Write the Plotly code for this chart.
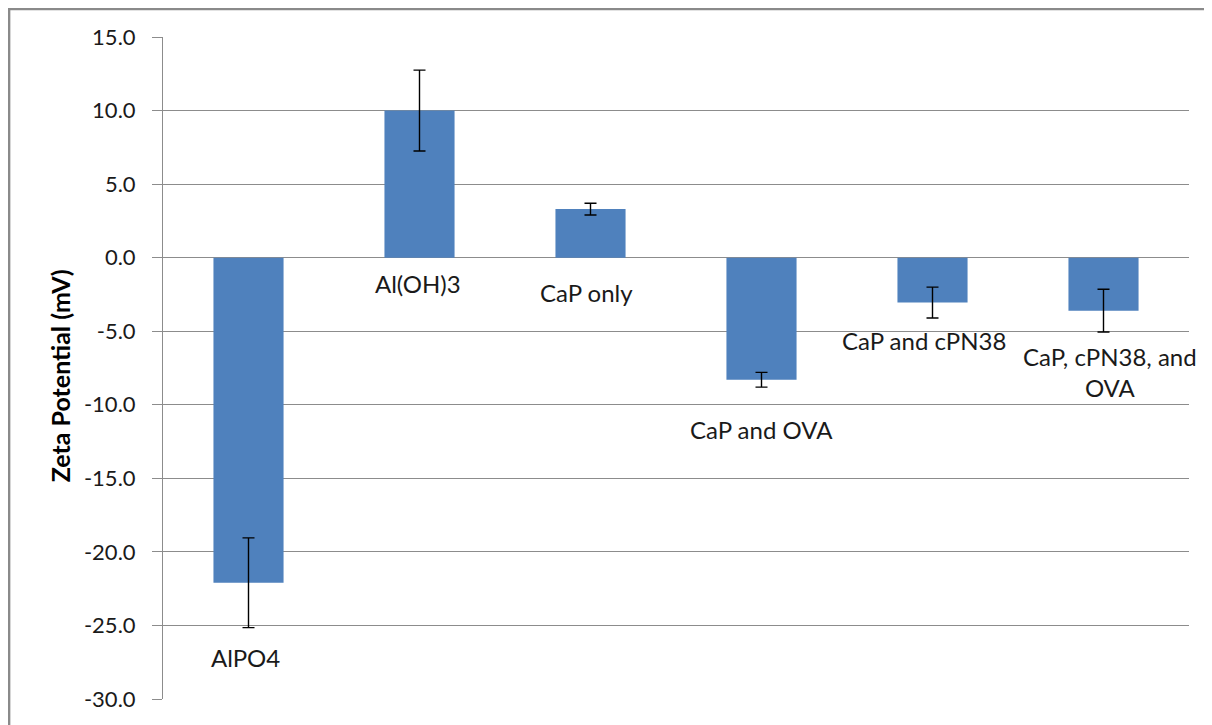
import plotly.graph_objects as go

categories = ["AlPO4", "Al(OH)3", "CaP only", "CaP and OVA", "CaP and cPN38", "CaP, cPN38, and OVA"]
zeta_values = [-22.1, 10.0, 3.3, -8.3, -3.05, -3.6]
zeta_errors = [3.05, 2.75, 0.4, 0.5, 1.05, 1.45]
label_texts = ["AlPO4", "Al(OH)3", "CaP only", "CaP and OVA", "CaP and cPN38", "CaP, cPN38, and<br>OVA"]
label_y = [-27.2, -1.75, -2.4, -11.7, -5.6, -7.8]
label_xshift = [-3, -2, -4, 0, -9, 6]
y_ticks = [15, 10, 5, 0, -5, -10, -15, -20, -25, -30]

FONT = "Lato, 'Liberation Sans', sans-serif"
GRID = "#8c8c8c"

fig = go.Figure()
fig.add_trace(go.Bar(
    x=categories, y=zeta_values,
    marker=dict(color="#4f81bd", line=dict(width=0)),
    error_y=dict(type="data", array=zeta_errors, visible=True,
                 color="black", thickness=1.4, width=6),
    width=0.41,
    hoverinfo="x+y",
))

for cat, txt, yy, xs in zip(categories, label_texts, label_y, label_xshift):
    fig.add_annotation(x=cat, y=yy, text=txt, showarrow=False, xshift=xs,
                       font=dict(family=FONT, size=24, color="#1a1a1a"),
                       xref="x", yref="y", align="center")

# y-axis title
fig.add_annotation(xref="paper", yref="paper", x=-0.1004, y=0.489,
                   text="<b>Zeta Potential (mV)</b>", textangle=-90,
                   showarrow=False, xanchor="center", yanchor="middle",
                   font=dict(family=FONT, size=25, color="black"))

fig.add_shape(type="rect", xref="paper", yref="paper",
              x0=-0.150, x1=1.2, y0=-0.2, y1=1.0423,
              line=dict(color="#8a8a8a", width=2.5), fillcolor="rgba(0,0,0,0)",
              layer="below")

fig.update_layout(
    width=1204, height=717,
    margin=dict(l=155, r=23, t=29, b=26),
    paper_bgcolor="white", plot_bgcolor="white",
    showlegend=False,
    font=dict(family=FONT, size=22, color="#1a1a1a"),
    xaxis=dict(showticklabels=False, showgrid=False, showline=False,
               zeroline=False, ticks="", range=[-0.5, 5.5]),
    yaxis=dict(range=[-30, 15], tickvals=y_ticks,
               ticktext=[f"{v:.1f}" for v in y_ticks],
               showgrid=True, gridcolor=GRID, gridwidth=1,
               zeroline=True, zerolinecolor=GRID, zerolinewidth=1,
               showline=True, linecolor=GRID, linewidth=1,
               ticks="outside", ticklen=10, tickcolor=GRID,
               ticklabelstandoff=12,
               tickfont=dict(family=FONT, size=22, color="#1a1a1a")),
)

fig.write_html("out.html")
